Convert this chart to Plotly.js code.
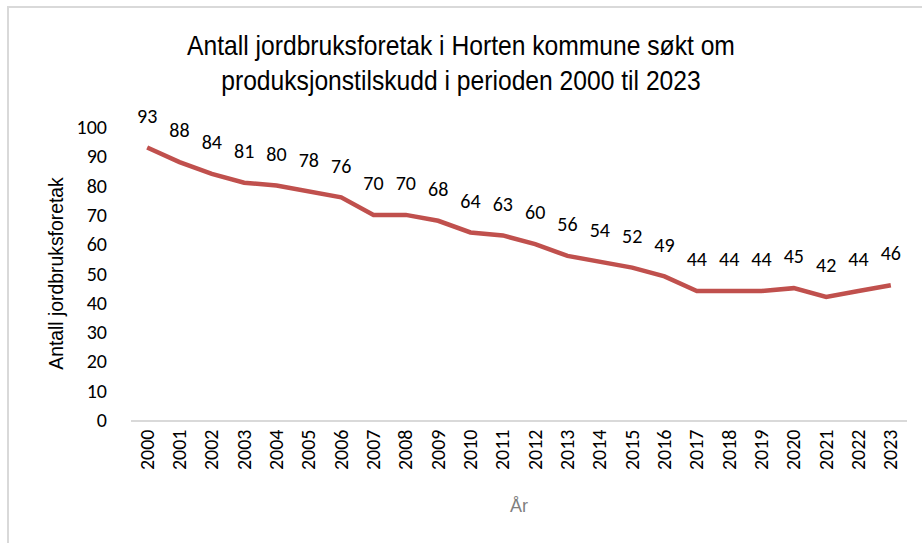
<!DOCTYPE html>
<html>
<head>
<meta charset="utf-8">
<script src="https://cdn.plot.ly/plotly-3.0.1.min.js"></script>
<style>
  html, body { margin: 0; padding: 0; background: #fff; overflow: hidden; }
  #frame { position: absolute; left: 7px; top: 6px; width: 940px; height: 560px; border: 2px solid #d9d9d9; box-sizing: border-box; }
  #chart { position: absolute; left: 0; top: 0; width: 922px; height: 543px; }
</style>
</head>
<body>
<div id="frame"></div>
<div id="chart"></div>
<script>
const years = ["2000","2001","2002","2003","2004","2005","2006","2007","2008","2009","2010","2011","2012","2013","2014","2015","2016","2017","2018","2019","2020","2021","2022","2023"];
const antall = [93,88,84,81,80,78,76,70,70,68,64,63,60,56,54,52,49,44,44,44,45,42,44,46];
const yTicks = [0,10,20,30,40,50,60,70,80,90,100];

const narrow = '"Liberation Sans Narrow", "Arial Narrow", "Liberation Sans", Arial, sans-serif';
const body = 'Carlito, Lato, "Open Sans", sans-serif';

const trace = {
  type: 'scatter',
  mode: 'lines+markers+text',
  x: years,
  y: antall,
  text: antall.map(String),
  textposition: 'top center',
  textfont: { family: body, size: 20, color: '#000' },
  line: { color: '#C0504D', width: 4.5 },
  marker: { size: 30, opacity: 0, color: '#C0504D' },
  cliponaxis: false,
  hoverinfo: 'x+y'
};

const layout = {
  width: 922, height: 543,
  margin: { l: 131, r: 15, t: 127, b: 123 },
  paper_bgcolor: 'rgba(0,0,0,0)',
  plot_bgcolor: 'rgba(0,0,0,0)',
  showlegend: false,
  title: {
    text: 'Antall jordbruksforetak i Horten kommune søkt om<br>produksjonstilskudd i perioden 2000 til 2023',
    font: { family: narrow, size: 27, color: '#000' },
    x: 0.5, xanchor: 'center', xref: 'container',
    y: 0.898, yanchor: 'middle', yref: 'container'
  },
  xaxis: {
    type: 'category',
    range: [-0.5, 23.5],
    showgrid: false,
    zeroline: false,
    showline: true,
    linecolor: '#d9d9d9',
    linewidth: 1.5,
    ticks: '',
    tickangle: -90,
    tickfont: { family: body, size: 20, color: '#000' },
    title: { text: 'År', font: { family: narrow, size: 18, color: '#7f7f7f' }, standoff: 30 },
    automargin: false
  },
  yaxis: {
    range: [0, 100],
    tickvals: yTicks,
    ticktext: yTicks.map(String),
    showgrid: false,
    zeroline: false,
    showline: false,
    ticks: '',
    ticklabelstandoff: 23,
    tickfont: { family: body, size: 20, color: '#000' },
    title: { text: 'Antall jordbruksforetak', font: { family: narrow, size: 21, color: '#000' }, standoff: 7 },
    automargin: false
  }
};

function condense(sel, targetWidth) {
  const el = document.querySelector(sel);
  if (!el) return;
  const bb = el.getBBox();
  if (!bb.width) return;
  const s = Math.min(1, targetWidth / bb.width);
  const cx = bb.x + bb.width / 2;
  const tr = el.getAttribute('transform') || '';
  el.setAttribute('transform', tr + ' translate(' + cx + ',0) scale(' + s + ',1) translate(' + (-cx) + ',0)');
}

Plotly.newPlot('chart', [trace], layout, { displayModeBar: false, staticPlot: true }).then(() => {
  condense('.gtitle', 548);
  condense('.ytitle', 193);
});
</script>
</body>
</html>
